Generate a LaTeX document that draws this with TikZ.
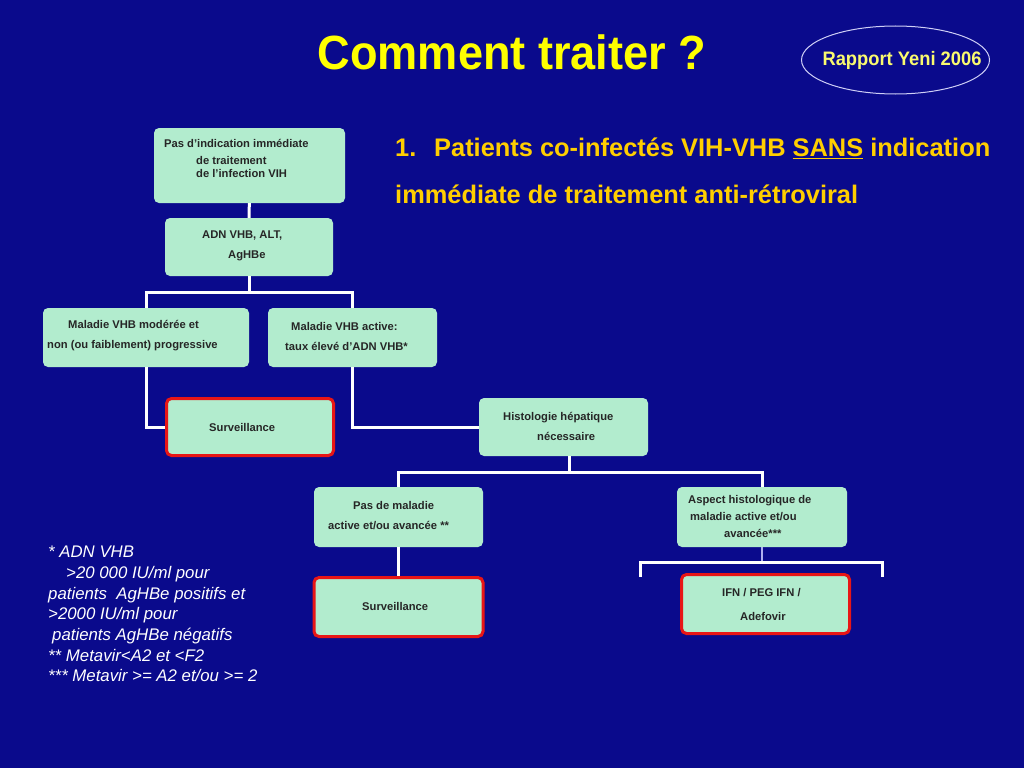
\documentclass[tikz,border=0pt]{standalone}
\usepackage{fontspec}
\setmainfont{Liberation Sans}
\newfontfamily\titlefont{Liberation Sans}[FakeStretch=0.94]
\newfontfamily\yenifont{Liberation Sans}[FakeStretch=0.94]

\definecolor{slidebg}{RGB}{10,10,140}
\definecolor{boxgreen}{RGB}{178,236,206}
\definecolor{boxred}{RGB}{232,22,22}
\definecolor{titleyellow}{RGB}{255,255,0}
\definecolor{headyellow}{RGB}{255,206,0}
\definecolor{yeniyellow}{RGB}{250,250,110}
\definecolor{lilac}{RGB}{175,175,240}

\tikzset{
  box/.style={fill=boxgreen, rounded corners=5pt, inner sep=0pt},
  alertbox/.style={box, draw=boxred, line width=3pt},
  boxtext/.style={font=\bfseries\fontsize{11.2}{20}\selectfont, text=black!85,
    align=left, inner sep=0pt, anchor=west},
  link/.style={draw=white, line width=3pt},
  thinlink/.style={draw=lilac, line width=1.2pt}
}

\begin{document}
\begin{tikzpicture}[x=1pt,y=-1pt]
% slide background
\fill[slidebg] (0,0) rectangle (1024,768);
\useasboundingbox (0,0) rectangle (1024,768);

% title and source
\node[anchor=base, text=titleyellow, font=\titlefont\bfseries\fontsize{48}{50}\selectfont,
  inner sep=0pt] (title) at (512,69) {Comment traiter ?};
\node[text=yeniyellow, inner sep=0pt,
  font=\yenifont\bfseries\fontsize{19.5}{22}\selectfont] (yeni) at (902,60)
  {Rapport Yeni 2006};
\draw[lilac!60!white, line width=1pt] ([xshift=-6.5pt]yeni.center)
  ellipse [x radius=94pt, y radius=34pt];

% heading
\node[anchor=west, align=left, text=headyellow, inner sep=0pt,
  font=\bfseries\fontsize{25.4}{47}\selectfont] (head) at (395,171)
  {\makebox[39pt][l]{1.}Patients co-infectés VIH-VHB \underline{SANS} indication\\
   immédiate de traitement anti-rétroviral};

% boxes, top to bottom
\node[box, minimum width=191pt, minimum height=75pt] (indic) at (249.5,165.5) {};
\node[box, minimum width=168pt, minimum height=58pt] (adn) at (249,247) {};
\node[box, minimum width=206pt, minimum height=59pt] (mod) at (146,337.5) {};
\node[box, minimum width=169pt, minimum height=59pt] (act) at (352.5,337.5) {};
\node[alertbox, minimum width=167pt, minimum height=57pt] (survA) at (250,427) {};
\node[box, minimum width=169pt, minimum height=58pt] (hist) at (563.5,427) {};
\node[box, minimum width=169pt, minimum height=60pt] (nomal) at (398.5,517) {};
\node[box, minimum width=170pt, minimum height=60pt] (aspect) at (762,517) {};
\node[alertbox, minimum width=169pt, minimum height=59pt] (survB) at (398.5,607) {};
\node[alertbox, minimum width=168pt, minimum height=59pt] (ifn) at (765.5,604) {};

% box texts
\node[boxtext, font=\bfseries\fontsize{11.2}{13}\selectfont] (indic-t) at (164,158)
  {Pas d’indication immédiate\\[4pt]
   \hspace*{32pt}de traitement\\
   \hspace*{32pt}de l’infection VIH};
\node[boxtext] (adn-t) at (202,246) {ADN VHB, ALT,\\ \hspace*{26pt}AgHBe};
\node[boxtext] (mod-t) at (47,336)
  {\hspace*{21pt}Maladie VHB modérée et\\ non (ou faiblement) progressive};
\node[boxtext] (act-t) at (285,336) {\hspace*{6pt}Maladie VHB active:\\ taux élevé d’ADN VHB*};
\node[boxtext] (survA-t) at (209,427) {Surveillance};
\node[boxtext] (hist-t) at (503,426) {Histologie hépatique\\ \hspace*{34pt}nécessaire};
\node[boxtext] (nomal-t) at (328,516) {\hspace*{25pt}Pas de maladie\\ active et/ou avancée **};
\node[boxtext, font=\bfseries\fontsize{11.2}{17}\selectfont] (aspect-t) at (688,516)
  {Aspect histologique de\\ \hspace*{2pt}maladie active et/ou\\ \hspace*{36pt}avancée***};
\node[boxtext] (survB-t) at (362,606) {Surveillance};
\node[boxtext, font=\bfseries\fontsize{11.2}{24}\selectfont] (ifn-t) at (722,604)
  {IFN / PEG IFN /\\ \hspace*{18pt}Adefovir};

% connectors
\draw[link] (indic) -- (adn);
\draw[link] (adn.south) -- ++(0,16) coordinate (forkA);
\draw[link] (mod.north) |- (forkA) -| (act.north);
\draw[link] (mod.south) |- (survA.west);
\draw[link] (act.south) |- (hist.west);
\draw[link] ([xshift=5.5pt]hist.south) -- ++(0,16) coordinate (forkB);
\draw[link] (nomal.north) |- (forkB) -| (aspect.north);
\draw[link] (nomal) -- (survB);
\draw[thinlink] (aspect.south) -- ++(0,15) coordinate (forkC);
\coordinate (endL) at (640,577);
\coordinate (endR) at (882,577);
\draw[link] (endL) |- (forkC) -| (endR);

% footnotes
\node[anchor=west, align=left, text=white, inner sep=0pt,
  font=\itshape\fontsize{16.8}{20.7}\selectfont] (notes) at (48,614)
  {* ADN VHB\\
   \hspace*{18pt}>20 000 IU/ml pour\\
   patients\ \ AgHBe positifs et\\
   >2000 IU/ml pour\\
   \hspace*{4pt}patients AgHBe négatifs\\
   ** Metavir<A2 et <F2\\
   *** Metavir >= A2 et/ou >= 2};
\end{tikzpicture}
\end{document}
